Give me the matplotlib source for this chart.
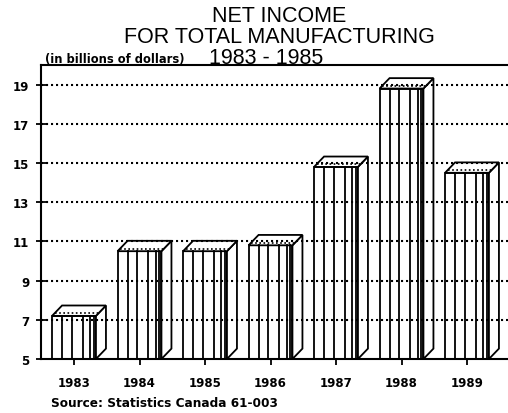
import matplotlib
matplotlib.use("Agg")
import matplotlib.pyplot as plt
from matplotlib.patches import Polygon
import numpy as np

years = ["1983", "1984", "1985", "1986", "1987", "1988", "1989"]
values = [7.2, 10.5, 10.5, 10.8, 14.8, 18.8, 14.5]
yticks = [5, 7, 9, 11, 13, 15, 17, 19]

fig = plt.figure(figsize=(5.08, 4.14), dpi=100)
ax = fig.add_axes([41/508, 1-360/414, 1-41/508, (360-66)/414])
ax.set_xlim(-0.504, 6.626)
ax.set_ylim(5, 20)

w = 0.67
dx = 10/65.5
dy = 0.53
base = 5
lw = 1.3
stripe_fr = [0.23, 0.45, 0.70, 0.87, 0.95]

for i, v in enumerate(values):
    x0, x1 = i - w/2, i + w/2
    front = Polygon([(x0, base), (x1, base), (x1, v), (x0, v)], closed=True,
                    facecolor="white", edgecolor="black", lw=lw, zorder=2)
    side = Polygon([(x1, base), (x1 + dx, base + dy), (x1 + dx, v + dy), (x1, v)],
                   closed=True, facecolor="white", edgecolor="black", lw=lw, zorder=2)
    top = Polygon([(x0, v), (x1, v), (x1 + dx, v + dy), (x0 + dx, v + dy)],
                  closed=True, facecolor="white", edgecolor="black", lw=lw, zorder=2)
    for p in (front, side, top):
        ax.add_patch(p)
    for f in stripe_fr:
        xs = x0 + f * w
        ax.plot([xs, xs], [base, v], color="black", lw=lw, zorder=3)
    ax.plot([x0 + dx*0.25, x1 + dx*0.25], [v + dy*0.25, v + dy*0.25], color="black",
            lw=1.2, ls=(0, (1, 1.5)), zorder=3)

# dotted gridlines
for t in yticks[1:]:
    ax.axhline(t, color="black", lw=1.5, ls=(0, (1.0, 1.4)), zorder=4)

ax.spines["right"].set_visible(False)
for s in ("left", "bottom", "top"):
    ax.spines[s].set_linewidth(1.5)
ax.set_yticks(yticks)
ax.set_yticklabels([str(t) for t in yticks], fontweight="bold", fontsize=8.5,
                   family="DejaVu Sans")
ax.set_xticks(range(len(years)))
ax.set_xticklabels(years, fontweight="bold", fontsize=8.5, family="DejaVu Sans")
ax.tick_params(axis="y", direction="inout", length=7, width=1.3, pad=5)
ax.tick_params(axis="x", direction="out", length=4, width=1.3, pad=8)

tfont = dict(family="Liberation Sans", fontweight="normal", fontsize=15.5,
             ha="center", va="center", color="black")
fig.text(279/508, 1-27/414, "NET INCOME\nFOR TOTAL MANUFACTURING",
         multialignment="center", linespacing=0.95, **tfont)
fig.text(266/508, 1-58/414, "1983 - 1985", **tfont)
fig.text(45/508, 1-59/414, "(in billions of dollars)", ha="left", va="center",
         fontsize=8.3, fontweight="bold", family="DejaVu Sans")
fig.text(51/508, 1-404/414, "Source: Statistics Canada 61-003", ha="left",
         va="center", fontsize=8.7, fontweight="bold", family="DejaVu Sans")

fig.savefig("out.png", dpi=100)
